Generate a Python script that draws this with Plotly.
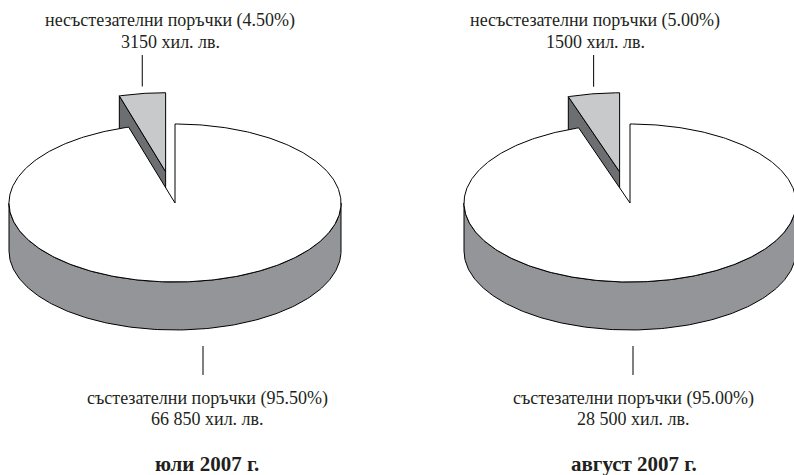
import numpy as np
import plotly.graph_objects as go

# ---- data (хил. лв.) ----
periods = ["юли 2007 г.", "август 2007 г."]
noncompetitive = [3150, 1500]
competitive = [66850, 28500]
name_non = "несъстезателни поръчки"
name_comp = "състезателни поръчки"

# ---- layout parameters ----
W, H = 794, 475
CX = [175, 630]
CY = 203
RX, RY = 166, 79
DEPTH = 48
EXPLODE = 0.40
TOP_LABEL_X = [170, 595]
BOT_LABEL_X = [207, 633]
BOT_LEADER_X = [203, 633]
TITLE_X = [207, 634]

C_SIDE = "#939598"
C_SMALL = "#c8c9cb"
C_SMALL_SIDE = "#6d6e71"
FONT = "Liberation Serif"
FS = 18


def fmt(v):
    return f"{v:,}".replace(",", " ") if v >= 10000 else str(v)


def rim(cx, cy, th):
    t = np.radians(th)
    return cx + RX * np.sin(t), cy - RY * np.cos(t)


fig = go.Figure()


def poly(xs, ys, color):
    xs = list(xs) + [xs[0]]
    ys = list(ys) + [ys[0]]
    fig.add_trace(go.Scatter(x=xs, y=ys, mode="lines", fill="toself",
                             fillcolor=color, line=dict(color="black", width=1),
                             hoverinfo="skip", showlegend=False))


for i in range(len(periods)):
    cx = CX[i]
    total = noncompetitive[i] + competitive[i]
    p_small = noncompetitive[i] / total
    p_big = competitive[i] / total
    a_small = 360 * p_small
    mid = np.radians(-a_small / 2)
    ox = cx + EXPLODE * RX * np.sin(mid)
    oy = CY - EXPLODE * RY * np.cos(mid)

    rx0, ry0 = rim(ox, oy, -a_small)
    poly([ox, rx0, rx0, ox], [oy, ry0, ry0 + DEPTH, oy + DEPTH], C_SMALL_SIDE)
    th = np.linspace(-a_small, 0, 40)
    ax_, ay_ = rim(ox, oy, th)
    poly([ox] + list(ax_), [oy] + list(ay_), C_SMALL)

    th = np.linspace(90, 270, 181)
    tx, ty = rim(cx, CY, th)
    poly(list(tx) + list(tx[::-1]), list(ty) + list((ty + DEPTH)[::-1]), C_SIDE)
    th = np.linspace(0, 360 - a_small, 400)
    bx, by = rim(cx, CY, th)
    poly([cx] + list(bx), [CY] + list(by), "white")

    mx, my = rim(ox, oy, -a_small / 2)
    fig.add_shape(type="line", x0=mx, x1=mx, y0=my - 7, y1=55,
                  line=dict(color="black", width=1))
    fig.add_shape(type="line", x0=BOT_LEADER_X[i], x1=BOT_LEADER_X[i],
                  y0=CY + RY + DEPTH + 16, y1=CY + RY + DEPTH + 45,
                  line=dict(color="black", width=1))

    tl = TOP_LABEL_X[i]
    f = dict(family=FONT, size=FS, color="#231f20")
    fig.add_annotation(x=tl, y=20, text=f"{name_non} ({p_small*100:.2f}%)",
                       showarrow=False, font=f)
    fig.add_annotation(x=tl, y=42, text=f"{fmt(noncompetitive[i])} хил. лв.",
                       showarrow=False, font=f)
    bl = BOT_LABEL_X[i]
    fig.add_annotation(x=bl, y=398, text=f"{name_comp} ({p_big*100:.2f}%)",
                       showarrow=False, font=f)
    fig.add_annotation(x=bl, y=419, text=f"{fmt(competitive[i])} хил. лв.",
                       showarrow=False, font=f)
    fig.add_annotation(x=TITLE_X[i], y=464, text=f"<b>{periods[i]}</b>",
                       showarrow=False, borderpad=0,
                       font=dict(family=FONT, size=21, color="#231f20"))

fig.update_layout(
    width=W, height=H,
    margin=dict(l=0, r=0, t=0, b=0),
    paper_bgcolor="white", plot_bgcolor="white",
    xaxis=dict(range=[0, W], visible=False, fixedrange=True),
    yaxis=dict(range=[H, 0], visible=False, fixedrange=True),
    showlegend=False,
)

fig.write_html("out.html", config={"displayModeBar": False},
               post_script="document.body.style.margin='0';document.body.style.padding='0';")
